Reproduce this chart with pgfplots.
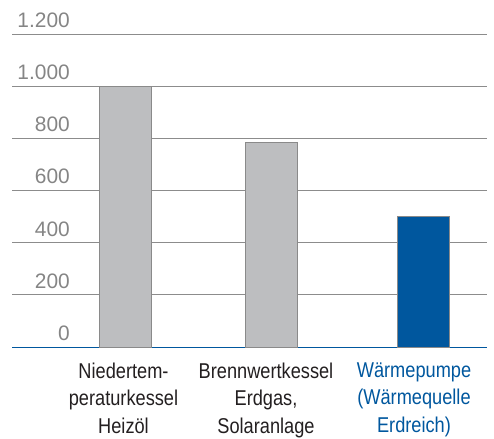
\documentclass[border=0pt]{standalone}
\usepackage{pgfplots}
\pgfplotsset{compat=1.18}
\usepackage{fontspec}
\setmainfont{Liberation Sans}[FakeStretch=0.85]
\newfontfamily\tickfont{Liberation Sans}
\definecolor{barGray}{HTML}{BDBEC0}
\definecolor{edgeGray}{HTML}{8A8A8A}
\definecolor{gridGray}{HTML}{8C8C8C}
\definecolor{barBlue}{HTML}{00579E}
\definecolor{tickGray}{HTML}{858585}
\definecolor{labBlack}{HTML}{231F20}
\begin{document}
\begin{tikzpicture}[x=1bp,y=1bp]
\useasboundingbox (0,0) rectangle (494,439);
\begin{axis}[
  at={(12bp,92bp)}, anchor=south west,
  scale only axis, width=475bp, height=313bp,
  xmin=12, xmax=487, ymin=0, ymax=1200,
  axis x line=bottom, axis y line*=left,
  x axis line style={barBlue, line width=0.8pt, -},
  y axis line style={draw=none},
  major tick length=0pt,
  ymajorgrids, grid style={gridGray, line width=0.8pt},
  ytick={0,200,400,600,800,1000,1200},
  yticklabels={0,200,400,600,800,1.000,1.200},
  yticklabel style={anchor=base east, inner sep=0pt, xshift=58bp, yshift=6.5bp, text=tickGray, font=\tickfont\fontsize{21}{24}\selectfont},
  xtick={123.5,266,414},
  xticklabels={{Niedertem-\\peraturkessel\\Heizöl},{Brennwertkessel\\Erdgas,\\Solaranlage},{\color{barBlue}Wärmepumpe\\\color{barBlue}(Wärmequelle\\\color{barBlue}Erdreich)}},
  xticklabel style={align=center, anchor=north, inner sep=0pt, yshift=-15.5bp, text=labBlack, font=\fontsize{21.5}{27.5}\selectfont, execute at begin node=\strut},
  /pgf/number format/assume math mode=true,
  ybar, bar width=52bp, bar shift=0pt,
  clip=false,
]
\addplot[fill=barGray, draw=edgeGray, line width=0.8pt] coordinates {(125,1000) (271,785)};
\addplot[fill=barBlue, draw=edgeGray, line width=0.8pt] coordinates {(423,502)};
\end{axis}
\end{tikzpicture}
\end{document}
